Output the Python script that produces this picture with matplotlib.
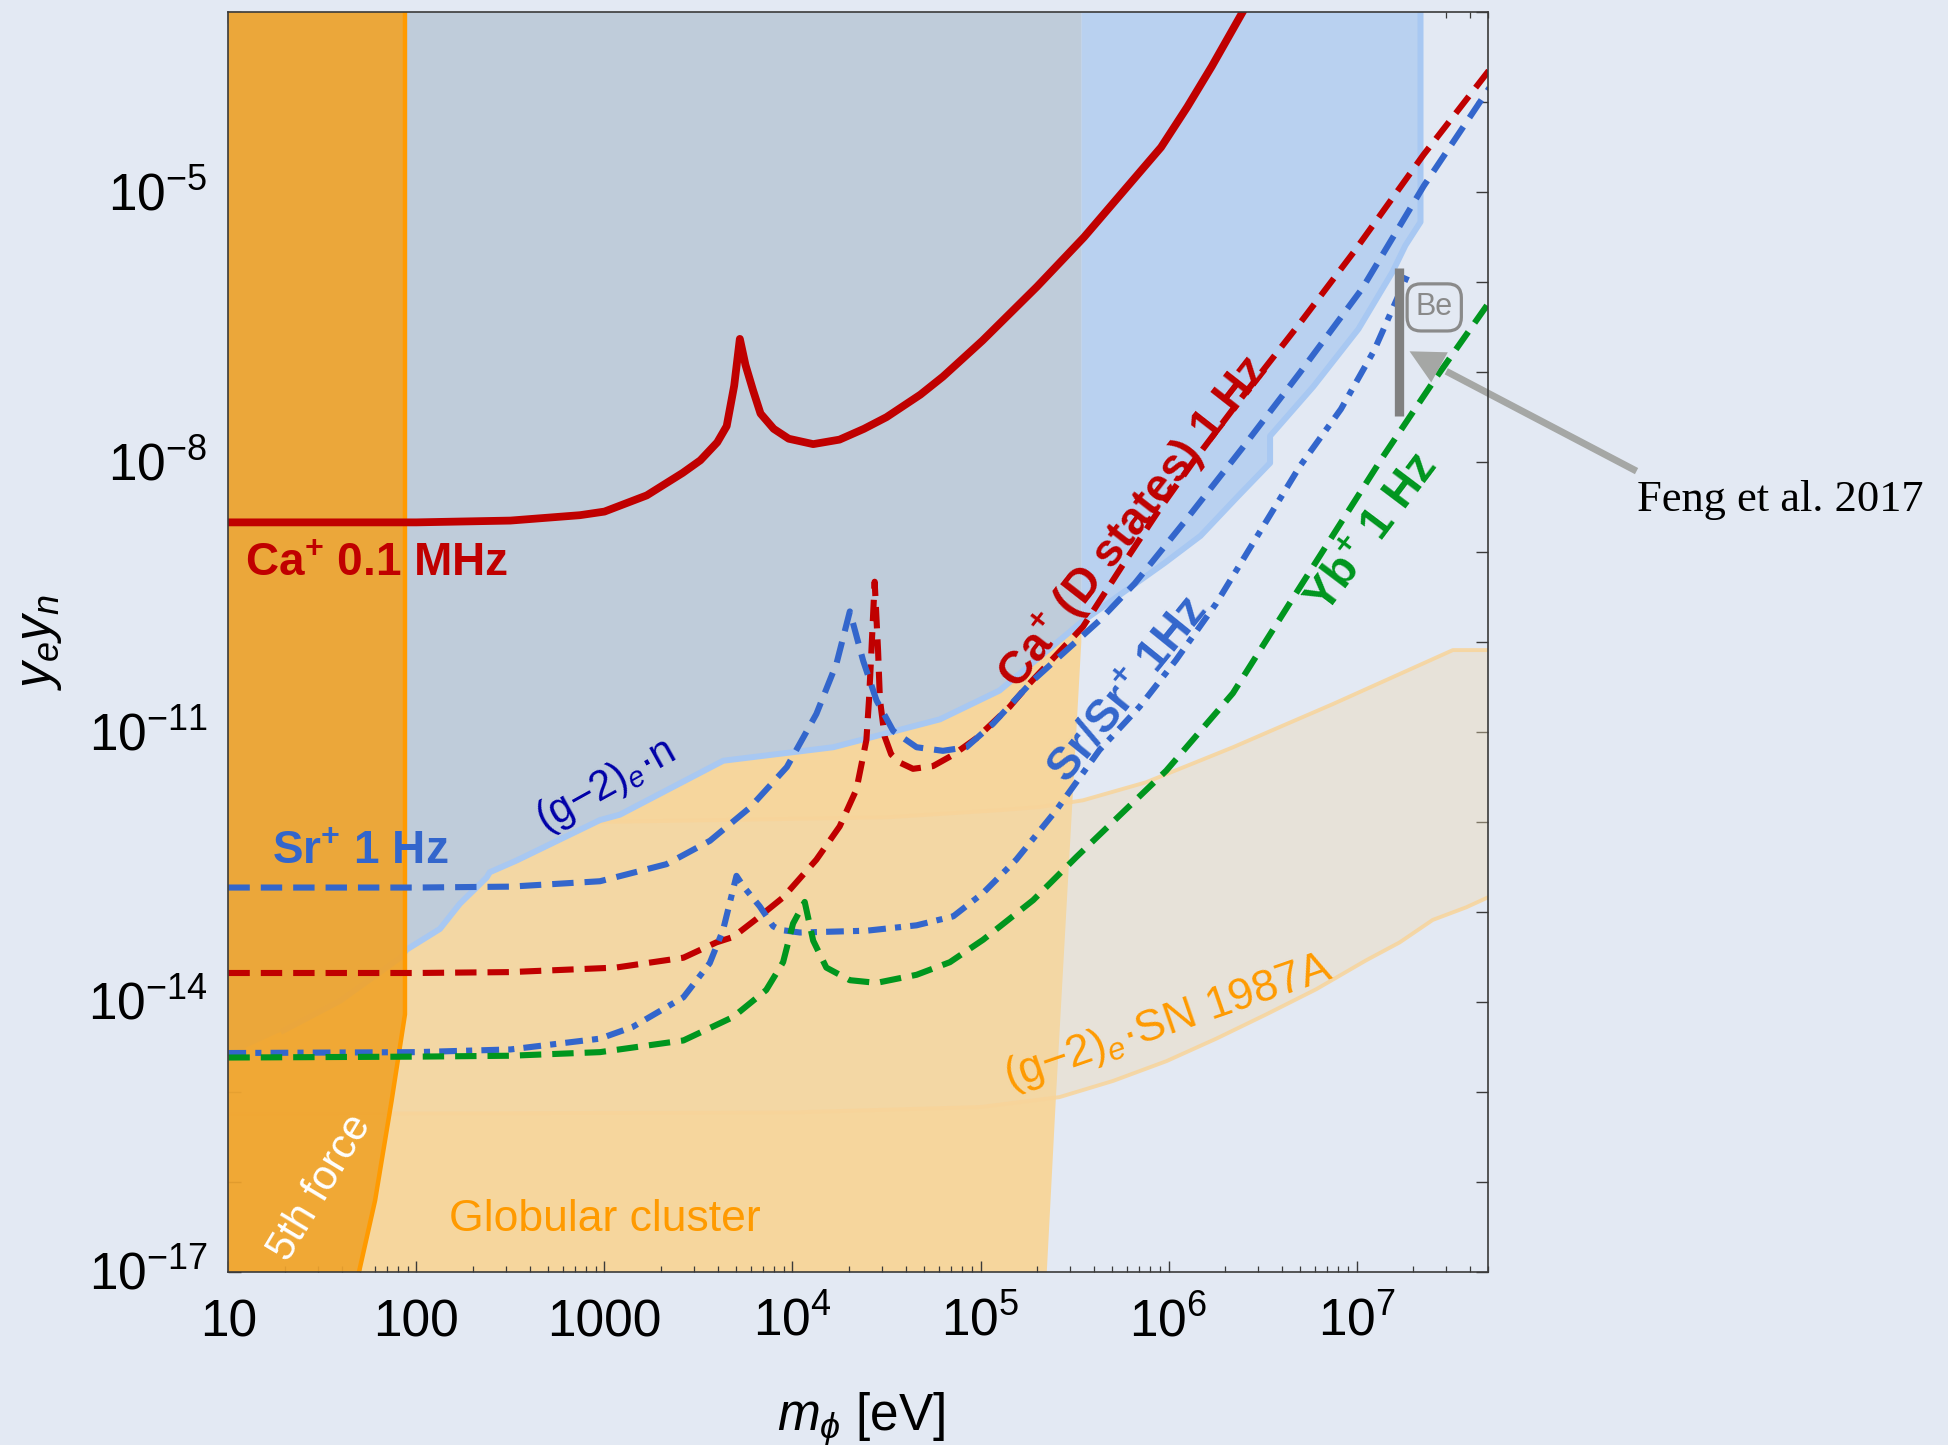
import numpy as np
import matplotlib
matplotlib.use("Agg")
import matplotlib.pyplot as plt
from matplotlib.patches import Polygon
from matplotlib.ticker import FixedLocator, NullFormatter, NullLocator, LogLocator
from matplotlib.transforms import offset_copy

plt.rcParams['font.family'] = ['Liberation Sans', 'DejaVu Sans']
plt.rcParams['mathtext.fontset'] = 'custom'
plt.rcParams['mathtext.rm'] = 'Liberation Sans'
plt.rcParams['mathtext.it'] = 'Liberation Sans:italic'
plt.rcParams['mathtext.bf'] = 'Liberation Sans:bold'

# ---------------------------------------------------------------------------
# Data: log10(m_phi / eV) and log10(y_e y_n)
# ---------------------------------------------------------------------------
# Ca+ 0.1 MHz (solid)
ca_mhz_logm = [1.0, 2.0, 2.5, 2.87, 3.0, 3.225, 3.416, 3.51, 3.6, 3.65, 3.69, 3.72,
               3.75, 3.79, 3.83, 3.9, 3.98, 4.11, 4.25, 4.38, 4.5, 4.68, 4.8, 5.01,
               5.3, 5.55, 5.96, 6.1, 6.23, 6.42]
ca_mhz_logy = [-8.67, -8.67, -8.65, -8.59, -8.55, -8.37, -8.12, -7.98, -7.78, -7.6,
               -7.15, -6.63, -6.92, -7.2, -7.46, -7.63, -7.74, -7.80, -7.75, -7.63,
               -7.5, -7.25, -7.05, -6.65, -6.05, -5.50, -4.5, -4.05, -3.6, -2.9]

# Sr+ 1 Hz (dashed)
sr_logm = [1.0, 2.0, 2.5, 2.976, 3.33, 3.561, 3.774, 3.97, 4.127, 4.234, 4.305,
           4.376, 4.447, 4.536, 4.66, 4.80, 4.925, 5.066, 5.278, 5.633, 5.82, 6.09,
           6.39, 6.697, 7.03, 7.357, 7.706]
sr_logy = [-12.73, -12.73, -12.72, -12.66, -12.47, -12.21, -11.84, -11.39, -10.80,
           -10.24, -9.66, -10.21, -10.65, -10.99, -11.17, -11.21, -11.17, -10.91,
           -10.43, -9.76, -9.35, -8.65, -7.85, -7.01, -6.07, -4.93, -3.84]

# Ca+ (D states) 1 Hz (dashed)
cad_logm = [1.0, 2.0, 2.5, 3.06, 3.42, 3.595, 3.684, 3.808, 3.95, 4.127, 4.251,
            4.34, 4.393, 4.407, 4.42, 4.437, 4.455, 4.465, 4.49, 4.525, 4.57, 4.641,
            4.747, 4.85, 4.978, 5.155, 5.261, 5.545, 5.77, 5.96, 6.13, 6.39, 6.697,
            6.983, 7.357, 7.706]
cad_logy = [-13.68, -13.68, -13.67, -13.62, -13.51, -13.34, -13.28, -13.08, -12.84,
            -12.42, -12.05, -11.64, -11.09, -10.64, -10.09, -9.33, -10.09, -10.64,
            -11.05, -11.25, -11.34, -11.41, -11.38, -11.26, -11.07, -10.72, -10.46,
            -9.83, -9.1, -8.5, -8.0, -7.28, -6.46, -5.67, -4.58, -3.64]

# Sr/Sr+ 1 Hz (dash-dot)
srsr_logm = [1.0, 2.0, 2.5, 2.976, 3.15, 3.42, 3.56, 3.631, 3.702, 3.74, 3.826,
             3.897, 3.932, 4.04, 4.394, 4.66, 4.855, 5.014, 5.19, 5.403, 5.633,
             5.846, 6.04, 6.254, 6.697, 6.917, 7.093, 7.273]
srsr_logy = [-14.57, -14.56, -14.53, -14.41, -14.28, -13.95, -13.57, -13.20, -12.60,
             -12.72, -12.94, -13.16, -13.20, -13.23, -13.21, -13.15, -13.05, -12.79,
             -12.42, -11.87, -11.20, -10.72, -10.2, -9.57, -8.05, -7.41, -6.76, -5.91]

# Yb+ 1 Hz (dashed)
yb_logm = [1.0, 2.0, 2.5, 2.976, 3.42, 3.684, 3.86, 3.95, 4.003, 4.065, 4.11, 4.18,
           4.305, 4.447, 4.66, 4.837, 5.014, 5.28, 5.51, 5.988, 6.342, 6.65, 7.137,
           7.423, 7.706]
yb_logy = [-14.62, -14.61, -14.60, -14.56, -14.43, -14.17, -13.87, -13.56, -13.13,
           -12.89, -13.32, -13.62, -13.76, -13.79, -13.70, -13.56, -13.31, -12.87,
           -12.39, -11.43, -10.57, -9.55, -7.95, -7.06, -6.22]

# (g-2)_e . n excluded region, lower boundary
gn_logm = [0.5, 1.0, 1.292, 1.593, 1.913, 1.948, 2.125, 2.231, 2.373, 2.39, 2.532,
           2.976, 3.082, 3.632, 4.217, 4.784, 5.101, 5.536, 5.98, 6.17, 6.36, 6.54,
           6.54, 6.77, 7.01, 7.19, 7.26, 7.34, 7.34]
gn_logy = [-14.65, -14.6, -14.32, -13.99, -13.51, -13.42, -13.19, -12.91, -12.62,
           -12.56, -12.43, -11.98, -11.92, -11.32, -11.17, -10.86, -10.54, -9.78,
           -9.12, -8.82, -8.40, -8.01, -7.71, -7.16, -6.52, -5.89, -5.59, -5.33, -2.0]
gn_split = 5.536  # grey part to the left, light blue part to the right

# Globular cluster region outline
gc_logm = [0.5, 5.536, 5.536, 5.40, 5.34, 0.5]
gc_logy = [-2.0, -2.0, -10.0, -15.1, -17.5, -17.5]

# 5th force region outline
ff_logm = [0.5, 1.939, 1.939, 1.868, 1.78, 1.695, 1.68, 0.5]
ff_logy = [-2.0, -2.0, -14.14, -15.1, -16.21, -17.0, -17.5, -17.5]

# (g-2)_e . SN 1987A band
sn_up_logm = [0.5, 3.0, 4.5, 5.102, 5.315, 5.545, 5.88, 6.13, 6.343, 6.608, 6.874,
              7.193, 7.512, 7.75]
sn_up_logy = [-12.0, -12.0, -11.95, -11.87, -11.835, -11.76, -11.56, -11.35, -11.17,
              -10.93, -10.69, -10.39, -10.09, -10.09]
sn_lo_logm = [0.5, 4.0, 5.0, 5.42, 5.705, 5.989, 6.254, 6.52, 6.786, 7.05, 7.229,
              7.405, 7.583, 7.75]
sn_lo_logy = [-15.25, -15.23, -15.17, -15.06, -14.88, -14.66, -14.41, -14.14, -13.86,
              -13.54, -13.34, -13.09, -12.95, -12.79]

# Be (Feng et al. 2017) bar
be_logm = 7.227
be_logy = [-5.84, -7.49]

# Axis ticks
xtick_vals = [1e1, 1e2, 1e3, 1e4, 1e5, 1e6, 1e7]
xtick_labels = ['10', '100', '1000', r'$10^{4}$', r'$10^{5}$', r'$10^{6}$', r'$10^{7}$']
ytick_label_vals = [1e-17, 1e-14, 1e-11, 1e-8, 1e-5]
ytick_labels = [r'$10^{-17}$', r'$10^{-14}$', r'$10^{-11}$', r'$10^{-8}$', r'$10^{-5}$']

# ---------------------------------------------------------------------------
BG = '#E3E9F3'
GREY = '#BFCCDA'
LBLUE = '#B9D1F0'
BND = '#A8C8F2'
GC = '#F6D69D'
FIFTH = '#F0A42C'
FIFTH_EDGE = '#FF9A00'
RED = '#C00000'
BLUE = '#3366CC'
GREEN = '#00961E'
ORANGE = '#FF9A00'
DKBLUE = '#0000A8'


def pw(a):
    return np.power(10.0, np.asarray(a, dtype=float))


fig = plt.figure(figsize=(19.49, 14.45), dpi=100)
fig.patch.set_facecolor(BG)
ax = fig.add_axes([0.11719, 0.12000, 0.64628, 0.87142])
ax.set_facecolor(BG)
ax.set_xscale('log')
ax.set_yscale('log')
ax.set_xlim(10, 5e7)
ax.set_ylim(1e-17, 1e-3)

# Regions --------------------------------------------------------------------
ax.fill(pw(gc_logm), pw(gc_logy), color=GC, lw=0, zorder=1)

sn_x = np.concatenate([pw(sn_up_logm), pw(sn_lo_logm)[::-1]])
sn_y = np.concatenate([pw(sn_up_logy), pw(sn_lo_logy)[::-1]])
ax.fill(sn_x, sn_y, color='#EFD9B0', alpha=0.38, lw=0, zorder=2)
ax.plot(pw(sn_up_logm), pw(sn_up_logy), color='#F8D49A', alpha=0.85, lw=2.8, zorder=2)
ax.plot(pw(sn_lo_logm), pw(sn_lo_logy), color='#F8D49A', alpha=0.85, lw=2.8, zorder=2)

gm = np.asarray(gn_logm)
gy = np.asarray(gn_logy)
left = gm <= gn_split
grey_x = np.concatenate([gm[left], [gn_split, 0.5]])
grey_y = np.concatenate([gy[left], [-2.0, -2.0]])
ax.fill(pw(grey_x), pw(grey_y), color=GREY, lw=0, zorder=3)
right = gm >= gn_split
blue_x = np.concatenate([gm[right], [gn_split]])
blue_y = np.concatenate([gy[right], [-2.0]])
ax.fill(pw(blue_x), pw(blue_y), color=LBLUE, lw=0, zorder=3)
ax.plot(pw(gn_logm[2:]), pw(gn_logy[2:]), color=BND, lw=4.3, zorder=3.5,
        solid_joinstyle='round')

ax.fill(pw(ff_logm), pw(ff_logy), facecolor=FIFTH, alpha=0.92, edgecolor='none', zorder=4)
ax.plot(pw(ff_logm[1:6]), pw(ff_logy[1:6]), color=FIFTH_EDGE, lw=3.2, zorder=4.1)

# Curves -------------------------------------------------------------------
dash = (0, (3.5, 1.8))
dashdot = (0, (2.9, 1.5, 1.0, 1.5))
LW = 4.4
ax.plot(pw(ca_mhz_logm), pw(ca_mhz_logy), color=RED, lw=5.6, zorder=5,
        solid_joinstyle='round')
ax.plot(pw(cad_logm), pw(cad_logy), color=RED, lw=LW, ls=dash, zorder=5)
ax.plot(pw(sr_logm), pw(sr_logy), color=BLUE, lw=LW, ls=dash, zorder=5)
ax.plot(pw(srsr_logm), pw(srsr_logy), color=BLUE, lw=LW, ls=dashdot, zorder=5)
ax.plot(pw(yb_logm), pw(yb_logy), color=GREEN, lw=LW, ls=dash, zorder=5)

# Be bound and annotation ----------------------------------------------------
ax.plot([10 ** be_logm] * 2, pw(be_logy), color='#808080', lw=6.7,
        solid_capstyle='butt', zorder=6)
ax.text(10 ** 7.413, 10 ** -6.28, 'Be', ha='center', va='center', fontsize=22,
        color='#8A8A8A', zorder=6,
        bbox=dict(boxstyle='round,pad=0.28,rounding_size=0.45', fc='none',
                  ec='#8A8A8A', lw=2.3))
arrow_col = '#A5A7A5'
ax.plot(pw([7.477, 8.489]), pw([-6.99, -8.10]), color=arrow_col, lw=5,
        solid_capstyle='butt', clip_on=False, zorder=7)
tri = np.column_stack([pw([7.2817, 7.4853, 7.397]), pw([-6.768, -6.779, -7.114])])
ax.add_patch(Polygon(tri, closed=True, fc=arrow_col, ec='none', zorder=7, clip_on=False))
fig.text(1637 / 1949, 1 - 511 / 1445, 'Feng et al. 2017', family='Liberation Serif',
         fontsize=32, ha='left', va='baseline', color='black')

# Labels -------------------------------------------------------------------
ax.text(12.2, 10 ** -9.27, r'Ca$^{\mathbf{+}}$ 0.1 MHz', color=RED, fontsize=33,
        fontweight='bold', ha='left', va='baseline', zorder=8)
ax.text(17.0, 10 ** -12.47, r'Sr$^{\mathbf{+}}$ 1 Hz', color=BLUE, fontsize=33,
        fontweight='bold', ha='left', va='baseline', zorder=8)
ax.text(10 ** 3.01, 10 ** -11.6, '(g\u22122)$_{e}$\u00b7n', color=DKBLUE, fontsize=30,
        rotation=29, ha='center', va='center', zorder=8)
ax.text(10 ** 5.812, 10 ** -8.665, r'Ca$^{\mathbf{+}}$ (D states) 1 Hz', color=RED,
        fontsize=33, fontweight='bold', rotation=52, ha='center', va='center', zorder=8)
ax.text(10 ** 5.787, 10 ** -10.54, r'Sr/Sr$^{\mathbf{+}}$ 1Hz', color=BLUE,
        fontsize=33, fontweight='bold', rotation=51, ha='center', va='center', zorder=8)
ax.text(10 ** 7.088, 10 ** -8.80, r'Yb$^{\mathbf{+}}$ 1 Hz', color=GREEN,
        fontsize=33, fontweight='bold', rotation=53, ha='center', va='center', zorder=8)
ax.text(10 ** 5.996, 10 ** -14.23, '(g\u22122)$_{e}$\u00b7SN 1987A', color=ORANGE,
        fontsize=32, rotation=19, ha='center', va='center', zorder=8)
ax.text(10 ** 3.0, 10 ** -16.42, 'Globular cluster', color=ORANGE, fontsize=32,
        ha='center', va='center', zorder=8)
ax.text(10 ** 1.49, 10 ** -16.07, '5th force', color='white', fontsize=30,
        rotation=59, ha='center', va='center', zorder=8)

# Axes styling ---------------------------------------------------------------
for s in ax.spines.values():
    s.set_color('#3A3A3A')
    s.set_linewidth(1.2)
    s.set_zorder(9)

ax.xaxis.set_major_locator(FixedLocator(xtick_vals))
ax.xaxis.set_minor_locator(LogLocator(base=10, subs=np.arange(2, 10)))
ax.xaxis.set_major_formatter(NullFormatter())
ax.xaxis.set_minor_formatter(NullFormatter())
ax.yaxis.set_major_locator(FixedLocator(pw(np.arange(-17, -2))))
ax.yaxis.set_minor_locator(NullLocator())
ax.yaxis.set_major_formatter(NullFormatter())
ax.tick_params(axis='x', which='major', direction='in', length=8, width=1.0,
               top=True, bottom=True, color='#3A3A3A')
ax.tick_params(axis='x', which='minor', direction='in', length=4.5, width=0.9,
               top=True, bottom=True, color='#3A3A3A')
ax.tick_params(axis='y', which='major', direction='in', length=9, width=1.0,
               left=True, right=True, color='#3A3A3A')

xlab_tr = offset_copy(ax.get_xaxis_transform(), fig=fig, y=-46.4, units='points')
for v, lab in zip(xtick_vals, xtick_labels):
    ax.text(v, 0, lab, transform=xlab_tr, ha='center', va='baseline', fontsize=37,
            clip_on=False)
ylab_tr = offset_copy(ax.get_yaxis_transform(), fig=fig, x=-15, y=-13.2, units='points')
for v, lab in zip(ytick_label_vals, ytick_labels):
    ax.text(0, v, lab, transform=ylab_tr, ha='right', va='baseline', fontsize=37,
            clip_on=False)

fig.text(861 / 1949, 1 - 1430 / 1445, r'$m_\phi$ [eV]', ha='center', va='baseline',
         fontsize=37)
fig.text(40 / 1949, 1 - 642 / 1445, r'$y_e y_n$', rotation=90, ha='center',
         va='center', fontsize=37)

fig.savefig('out.png', dpi=100, facecolor=BG)
